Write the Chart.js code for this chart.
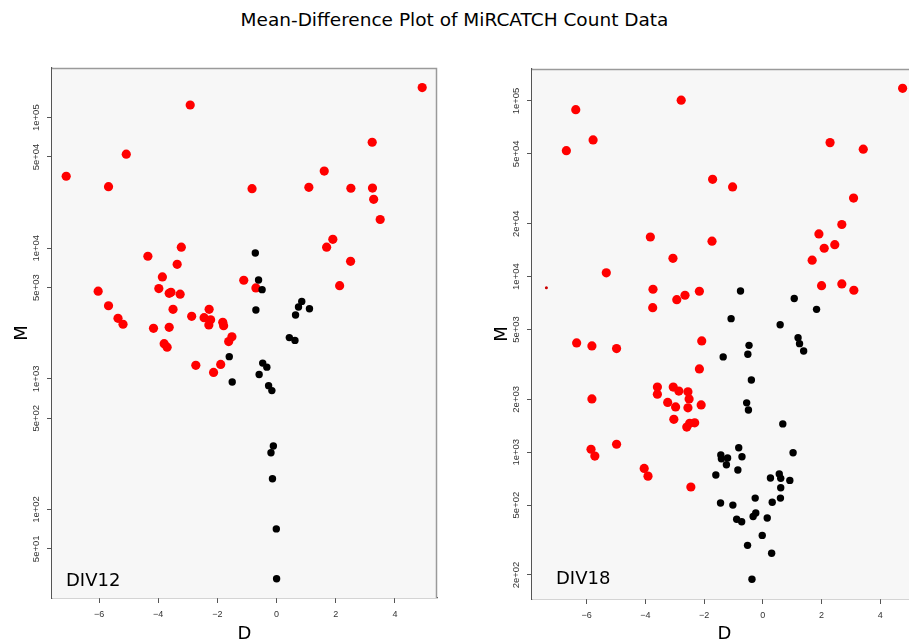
<!DOCTYPE html>
<html>
<head>
<meta charset="utf-8">
<script src="https://cdn.jsdelivr.net/npm/chart.js@4"></script>
<style>
html, body { margin: 0; padding: 0; overflow: hidden; background: #fff; }
body { width: 909px; height: 643px; position: relative; font-family: "DejaVu Sans", sans-serif; }
#title { position: absolute; top: 11px; left: 0; width: 909px; text-align: center; font-size: 18.5px; line-height: 18px; color: #000; }
.panel { position: absolute; top: 0; }
.tag { position: absolute; font-size: 18px; line-height: 18px; color: #000; z-index: 2; }
</style>
</head>
<body>
<div id="title">Mean-Difference Plot of MiRCATCH Count Data</div>
<canvas id="div12" class="panel" width="450" height="643" style="left:0px"></canvas>
<canvas id="div18" class="panel" width="450" height="643" style="left:480px"></canvas>
<div class="tag" style="left:66px;top:571px">DIV12</div>
<div class="tag" style="left:556px;top:569px">DIV18</div>
<script>
// tick labels
var X_TICKS = [-6, -4, -2, 0, 2, 4];
var DIV12_Y_TICKS = [50, 100, 500, 1000, 5000, 10000, 50000, 100000];
var DIV18_Y_TICKS = [200, 500, 1000, 2000, 5000, 10000, 20000, 50000, 100000];

// DIV12 - differentially expressed (red)
var DIV12_RED_D = [-7.11, -2.92, -5.08, -5.68, 4.92, 3.23, 1.61, 1.09, 2.51, 3.24, 3.28, 3.50, -0.83, 1.90, 1.69, 2.50, 2.13,
    -3.22, -4.35, -3.36, -3.86, -3.98, -3.63, -3.57, -3.26, -6.03, -5.68, -5.36, -5.19, -3.50, -2.28, -2.87, -2.45, -2.23,
    -2.29, -1.82, -1.79, -4.16, -3.63, -1.51, -1.62, -3.80, -3.70, -1.11, -0.70, -2.73, -2.13, -1.89];
var DIV12_RED_M = [35600, 125000, 52500, 29600, 170000, 64800, 39000, 29300, 28800, 28900, 23700, 16600, 28600, 11700, 10200, 7940, 5170,
    10200, 8690, 7540, 6030, 4910, 4520, 4600, 4450, 4690, 3630, 2910, 2620, 3410, 3410, 3010, 2940, 2830,
    2590, 2710, 2550, 2440, 2480, 2100, 1930, 1860, 1750, 5690, 4970, 1270, 1120, 1290];
// DIV12 - others (black)
var DIV12_BLACK_D = [-0.72, -0.61, -0.49, -0.70, 0.85, 0.74, 1.11, 0.64, 0.43, 0.62, -1.60, -0.47, -0.33, -0.59, -1.50, -0.27,
    -0.16, -0.11, -0.19, -0.14, -0.01, 0.00];
var DIV12_BLACK_M = [9200, 5710, 4820, 3370, 3920, 3550, 3440, 3080, 2070, 1970, 1480, 1320, 1230, 1080, 946, 887,
    813, 306, 272, 172, 71, 29.5];

// DIV18 - differentially expressed (red)
var DIV18_RED_D = [4.76, -2.78, -6.37, -5.78, -6.69, 2.29, 3.42, -1.71, -1.03, 3.09, 2.69, 1.91, 2.45, 2.09, 1.68, 2.00, 2.69, 3.10,
    -3.83, -1.73, -3.06, -5.33, -3.74, -2.16, -2.65, -2.93, -3.75, -6.34, -5.82, -4.98, -2.08, -2.16, -3.59, -3.59, -3.05,
    -2.86, -2.55, -2.51, -3.24, -2.97, -2.55, -2.10, -3.03, -2.32, -2.49, -2.59, -5.82, -4.98, -5.85, -5.72, -4.04, -3.91, -2.45];
var DIV18_RED_M = [118000, 101000, 89200, 60000, 52100, 57900, 53100, 35800, 32400, 28000, 19800, 17500, 15200, 14500, 12400, 8880, 9080, 8360,
    16800, 15900, 12700, 10500, 8470, 8250, 7830, 7390, 6650, 4190, 4030, 3890, 4300, 2980, 2350, 2140, 2350,
    2230, 2210, 2010, 1920, 1810, 1790, 1860, 1540, 1470, 1460, 1390, 2010, 1110, 1040, 951, 809, 731, 634];
var DIV18_DOT_D = [-7.37];
var DIV18_DOT_M = [8650];
// DIV18 - others (black)
var DIV18_BLACK_D = [-0.76, 1.07, 1.83, -1.08, 0.59, 1.20, 1.25, 1.39, -0.47, -0.51, -1.35, -0.39, -0.55, -0.49, 0.68, -0.82,
    1.03, -1.43, -1.41, -1.20, -0.71, -1.24, -0.85, -1.60, 0.56, 0.26, 0.61, 0.92, 0.61, -0.26, 0.60, 0.32, -1.44, -1.02,
    -0.24, -0.33, 0.15, -0.89, -0.72, -0.02, -0.52, 0.30, -0.37];
var DIV18_BLACK_M = [8280, 7510, 6510, 5760, 5320, 4490, 4150, 3770, 4060, 3610, 3490, 2580, 1910, 1740, 1450, 1060,
    994, 964, 918, 927, 943, 849, 792, 742, 751, 713, 710, 691, 628, 548, 548, 519, 514, 500,
    451, 431, 422, 415, 402, 336, 295, 266, 189];

function toPoints(xs, ys) {
    var pts = [];
    for (var i = 0; i < xs.length; i++) {
        pts.push({x: xs[i], y: ys[i]});
    }
    return pts;
}

function sciLabel(v) {
    var e = Math.floor(Math.log10(v) + 1e-9);
    var m = Math.round(v / Math.pow(10, e));
    var a = Math.abs(e);
    return m + 'e' + (e < 0 ? '-' : '+') + (a < 10 ? '0' : '') + a;
}

var plotBox = {
    id: 'plotBox',
    beforeDatasetsDraw: function(chart) {
        var a = chart.chartArea, ctx = chart.ctx;
        ctx.save();
        ctx.fillStyle = '#f7f7f7';
        ctx.fillRect(a.left, a.top, a.right - a.left, a.bottom - a.top);
        ctx.strokeStyle = '#9a9a9a';
        ctx.lineWidth = 1.5;
        ctx.beginPath();
        ctx.moveTo(a.left, a.top + 0.5);
        ctx.lineTo(a.right - 0.5, a.top + 0.5);
        ctx.lineTo(a.right - 0.5, a.bottom);
        ctx.stroke();
        ctx.restore();
    }
};

function makePanel(id, opts) {
    var datasets = [
        {data: toPoints(opts.blackD, opts.blackM), backgroundColor: '#000', borderWidth: 0, pointRadius: 3.7, order: 0},
        {data: toPoints(opts.redD, opts.redM), backgroundColor: '#ff0000', borderWidth: 0, pointRadius: 4.6, order: 1}
    ];
    if (opts.dotD) {
        datasets.push({data: toPoints(opts.dotD, opts.dotM), backgroundColor: '#cc0000', borderWidth: 0, pointRadius: 1.5, order: 2});
    }
    return new Chart(document.getElementById(id), {
        type: 'scatter',
        data: {datasets: datasets},
        plugins: [plotBox],
        options: {
            responsive: false,
            animation: false,
            devicePixelRatio: 1,
            layout: {padding: {top: opts.top, right: 13, left: 0, bottom: 0}},
            plugins: {legend: {display: false}, tooltip: {enabled: false}},
            scales: {
                x: {
                    type: 'linear',
                    min: opts.xMin,
                    max: opts.xMax,
                    afterBuildTicks: function(s) { s.ticks = X_TICKS.map(function(v) { return {value: v}; }); },
                    afterFit: function(s) { s.height = opts.xHeight; },
                    grid: {drawOnChartArea: false, drawTicks: true, tickLength: 5, color: '#555'},
                    border: {display: true, color: '#555', width: 1.2},
                    ticks: {
                        padding: 6,
                        maxRotation: 0,
                        color: '#333',
                        font: {family: 'Liberation Sans', size: 9},
                        callback: function(v) { return v < 0 ? '\u2212' + Math.abs(v) : String(v); }
                    },
                    title: {display: true, text: 'D', color: '#000', padding: {top: 0, bottom: 0},
                        font: {family: 'DejaVu Sans', size: 18, lineHeight: 1}}
                },
                y: {
                    type: 'logarithmic',
                    min: opts.yMin,
                    max: opts.yMax,
                    afterBuildTicks: function(s) { s.ticks = opts.yTicks.map(function(v) { return {value: v}; }); },
                    afterFit: function(s) { s.width = 52; },
                    grid: {drawOnChartArea: false, drawTicks: true, tickLength: 5, color: '#555'},
                    border: {display: true, color: '#555', width: 1.2},
                    ticks: {
                        minRotation: 90,
                        maxRotation: 90,
                        crossAlign: 'center',
                        padding: -3,
                        color: '#333',
                        font: {family: 'Liberation Sans', size: 9.5},
                        callback: function(v) { return sciLabel(v); }
                    },
                    title: {display: true, text: 'M', color: '#000', padding: {top: 13, bottom: 0},
                        font: {family: 'DejaVu Sans', size: 18, lineHeight: 1}}
                }
            }
        }
    });
}

makePanel('div12', {
    redD: DIV12_RED_D, redM: DIV12_RED_M, blackD: DIV12_BLACK_D, blackM: DIV12_BLACK_M,
    xMin: -7.59, xMax: 5.42, yMin: 21.0, yMax: 240000, yTicks: DIV12_Y_TICKS,
    top: 68, xHeight: 45
});
makePanel('div18', {
    redD: DIV18_RED_D, redM: DIV18_RED_M, blackD: DIV18_BLACK_D, blackM: DIV18_BLACK_M,
    dotD: DIV18_DOT_D, dotM: DIV18_DOT_M,
    xMin: -7.86, xMax: 5.25, yMin: 146, yMax: 152000, yTicks: DIV18_Y_TICKS,
    top: 69, xHeight: 44
});
</script>
</body>
</html>
